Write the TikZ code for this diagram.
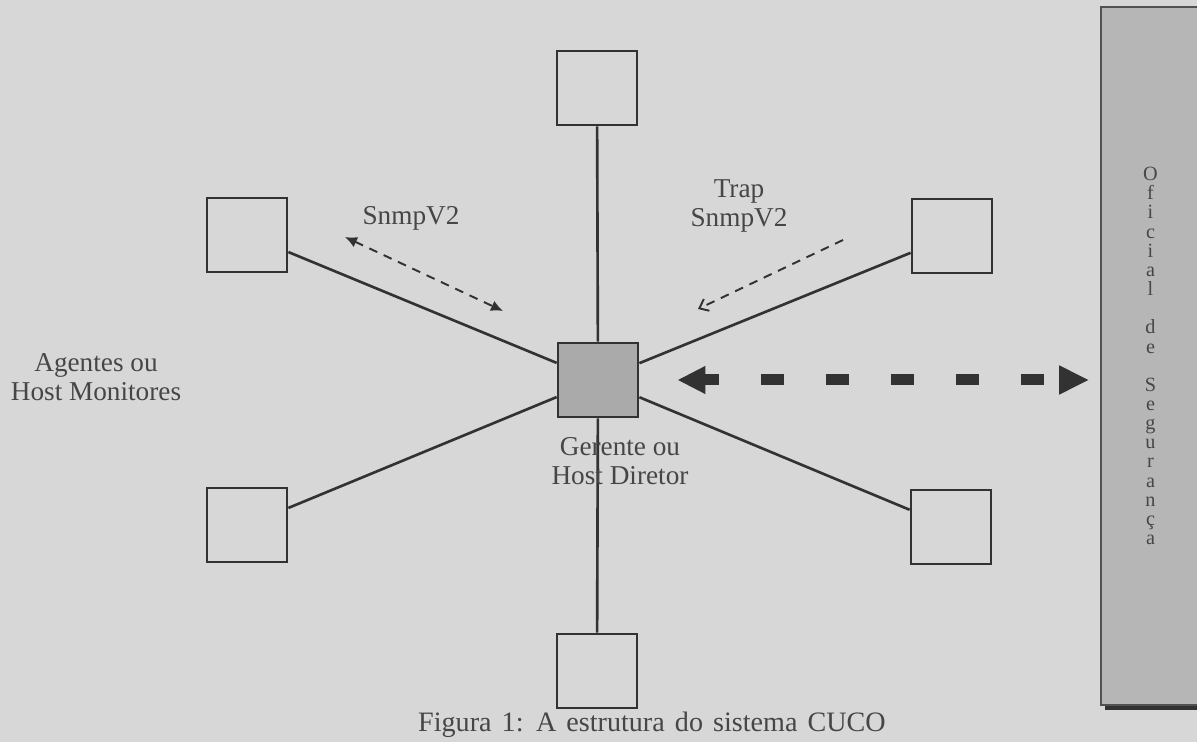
\documentclass[tikz,border=0pt]{standalone}
\usepackage{fontspec}
\setmainfont{Liberation Serif}
\usetikzlibrary{arrows.meta, positioning, shadows}
\definecolor{PaperGray}{RGB}{215,215,215}
\definecolor{InkGray}{RGB}{50,50,50}
\definecolor{PanelGray}{RGB}{182,182,182}
\definecolor{HubGray}{RGB}{170,170,170}

\begin{document}
\begin{tikzpicture}[x=0.02cm, y=-0.02cm, font=\fontsize{15.5}{16.5}\selectfont, text=InkGray!90]
    \tikzset{
        agentbox/.style={rectangle, draw=InkGray, line width=1.6pt,
            minimum width=1.6cm, minimum height=1.48cm, inner sep=0pt},
        managerbox/.style={agentbox, fill=HubGray},
        officerpanel/.style={rectangle, draw=InkGray!85, line width=1pt,
            fill=PanelGray, minimum width=1.98cm, minimum height=13.96cm,
            inner sep=0pt, align=center, font=\fontsize{11.5}{10.9}\selectfont,
            drop shadow={shadow xshift=2pt, shadow yshift=-3pt,
                fill=InkGray, opacity=1}},
        linkline/.style={InkGray, line width=1.5pt},
        snmpflow/.style={InkGray, line width=1.1pt, dash pattern=on 5pt off 4pt,
            {Latex[length=2.4mm, width=2.2mm]}-{Latex[length=2.4mm, width=2.2mm]}},
        trapflow/.style={InkGray, line width=1.1pt, dash pattern=on 5pt off 4pt,
            -{Straight Barb[length=1.6mm, width=2.6mm]}},
        alertflow/.style={InkGray, line width=0.22cm, line cap=butt,
            dash pattern=on 0.46cm off 0.84cm, dash phase=0.16cm,
            {Triangle[length=0.56cm, width=0.52cm]}-{Triangle[length=0.6cm, width=0.54cm]}}
    }
    \fill[PaperGray] (0,0) rectangle (1197,742);
    \useasboundingbox (0,0) rectangle (1197,742);
    % agents around the manager
    \node[managerbox] (hub) at (598,380) {};
    \node[agentbox] (top) at (597,88) {};
    \node[agentbox] (bottom) at (597,671) {};
    \node[agentbox] (upleft) at (247,235) {};
    \node[agentbox] (lowleft) at (247,525) {};
    \node[agentbox] (upright) at (952,236) {};
    \node[agentbox] (lowright) at (951,527) {};
    \node[officerpanel] (officer) at (1150.5,356)
        {O\\f\\i\\c\\i\\a\\l\\[10.9pt]d\\e\\[10.9pt]S\\e\\g\\u\\r\\a\\n\\ç\\a};
    \draw[linkline] (top) -- (hub);
    \draw[linkline] (hub) -- (bottom);
    \draw[linkline] (upleft) -- (hub);
    \draw[linkline] (lowleft) -- (hub);
    \draw[linkline] (upright) -- (hub);
    \draw[linkline] (lowright) -- (hub);
    % labels
    \node[align=center] (agents) at (96,377) {Agentes ou\\Host Monitores};
    \node (snmplabel) at (411,218) {SnmpV2};
    \node[align=center] (traplabel) at (739,206) {Trap\\SnmpV2};
    \node[align=center] (hublabel) at (620,461) {Gerente ou\\Host Diretor};
    \node[anchor=base west, font={\fontsize{16}{18}\selectfont\spaceskip=0.36em\relax}]
        (caption) at (412,732) {Figura 1: A estrutura do sistema CUCO};
    % message flows
    \coordinate (snmpend) at (345,237);
    \coordinate (snmpstart) at (503,311);
    \coordinate (trapstart) at (843,240);
    \coordinate (trapend) at (698,309);
    \draw[snmpflow] (snmpend) -- (snmpstart);
    \draw[trapflow] (trapstart) -- (trapend);
    \draw[alertflow, shorten <=0.76cm, shorten >=0.22cm] (hub.east) -- (hub.east -| officer.west);
\end{tikzpicture}
\end{document}
